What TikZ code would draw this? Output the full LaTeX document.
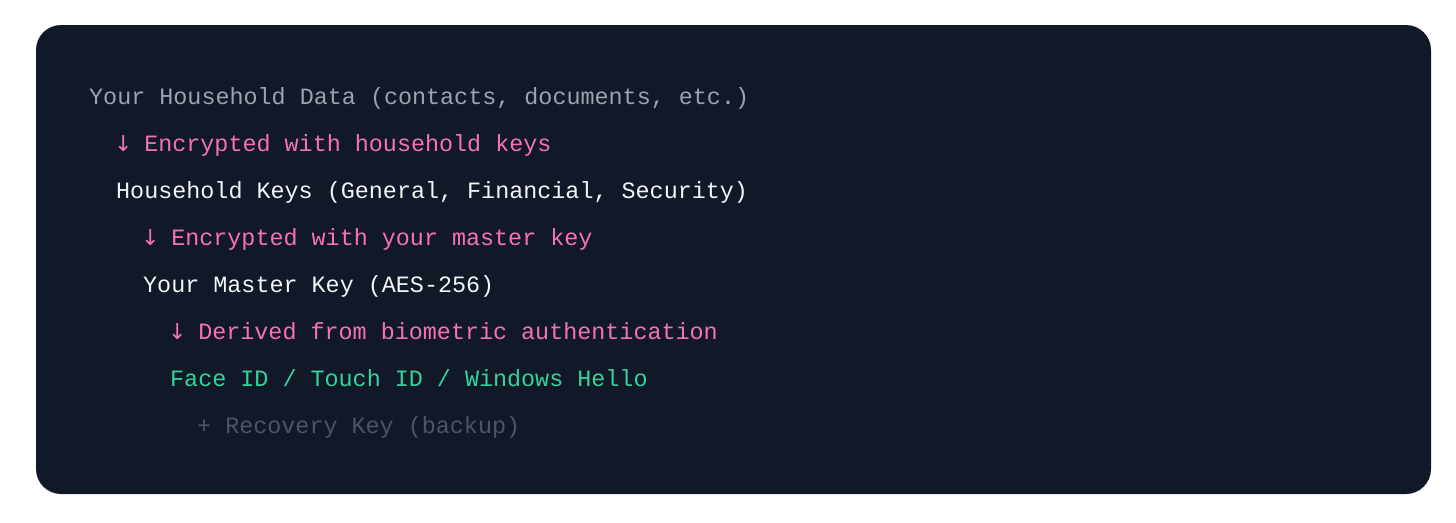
\documentclass[tikz,border=0pt]{standalone}
\usepackage{fontspec}
\setmonofont{Liberation Mono}
\newfontfamily\arrowfont{DejaVu Sans}
\newcommand\dn{\makebox[0.6em][c]{\arrowfont\fontsize{22}{22}\selectfont ↓}}
\usetikzlibrary{backgrounds}

\begin{document}
\begin{tikzpicture}[x=1pt,y=-1pt]
\definecolor{panel}{HTML}{111827}
\definecolor{data}{HTML}{9CA3AF}
\definecolor{step}{HTML}{F472B6}
\definecolor{key}{HTML}{F3F4F6}
\definecolor{bio}{HTML}{34D399}
\definecolor{backup}{HTML}{4B5563}
\tikzset{line/.style={anchor=base west,inner sep=0pt,font=\ttfamily\fontsize{23.4}{28}\selectfont}}

\useasboundingbox (0,0) rectangle (1456,522);
\fill[panel,rounded corners=25pt] (36,25) rectangle (1431,494);

\node[line,text=data]  (data)   at (89,104)  {Your Household Data (contacts, documents, etc.)};
\node[line,text=step]  (enc1)   at (116,151) {\dn\ Encrypted with household keys};
\node[line,text=key]   (hkeys)  at (116,198) {Household Keys (General, Financial, Security)};
\node[line,text=step]  (enc2)   at (143,245) {\dn\ Encrypted with your master key};
\node[line,text=key]   (master) at (143,292) {Your Master Key (AES-256)};
\node[line,text=step]  (derive) at (170,339) {\dn\ Derived from biometric authentication};
\node[line,text=bio]   (bio)    at (170,386) {Face ID / Touch ID / Windows Hello};
\node[line,text=backup](recov)  at (197,433) {+ Recovery Key (backup)};
\end{tikzpicture}
\end{document}
